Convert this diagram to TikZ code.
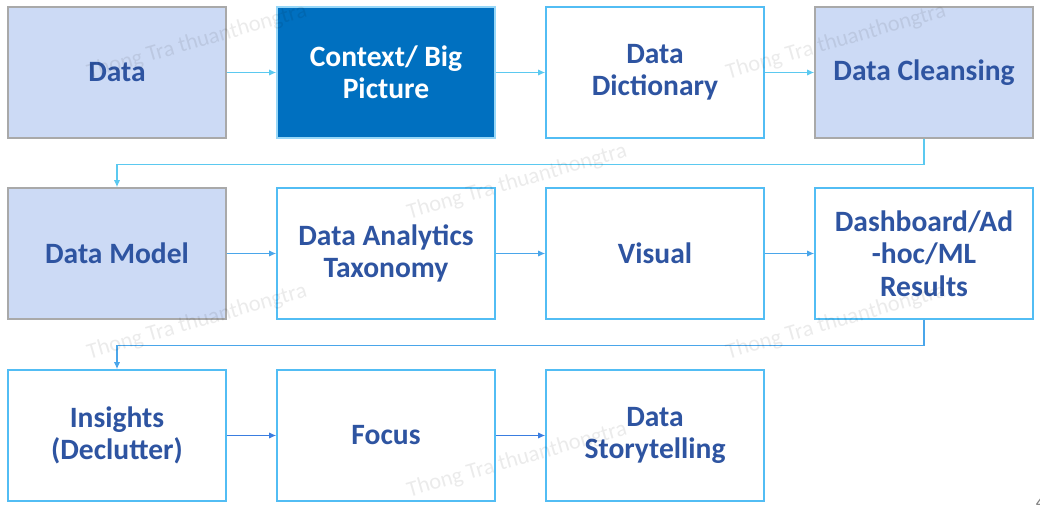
\documentclass[tikz,border=0pt]{standalone}
\usepackage{fontspec}
\setmainfont{Carlito}
\usepackage{xcolor}
\usetikzlibrary{positioning, arrows.meta, calc}

\definecolor{txtblue}{HTML}{2E54A1}
\definecolor{lightfill}{HTML}{CCDAF5}
\definecolor{graybd}{HTML}{A9A9A9}
\definecolor{ctxblue}{HTML}{0070C0}
\definecolor{cyanbd}{HTML}{52BDF4}
\definecolor{arrA}{HTML}{5BC9F0}
\definecolor{arrB}{HTML}{4AA6EA}
\definecolor{arrC}{HTML}{3A7DE0}

\tikzset{
  box/.style={rectangle, minimum width=5.45cm, minimum height=3.275cm, align=center,
    font=\fontsize{21}{23}\selectfont\bfseries, text=txtblue, line width=1pt},
  shaded/.style={box, draw=graybd, fill=lightfill},
  plain/.style={box, draw=cyanbd, fill=white},
  flow/.style={line width=1.1pt, -{Latex[length=5pt, width=4.5pt]}},
  wmark/.style={rotate=16, text=black, text opacity=0.08, font=\fontsize{16}{16}\selectfont}
}

\begin{document}
\begin{tikzpicture}[x=0.025cm, y=-0.025cm]
        \useasboundingbox (0,0) rectangle (1040,511);

        % first row
        \node[shaded] (data) at (117,72.5) {Data};
        \node[box, draw=cyanbd!60, fill=ctxblue, text=white] (ctx) at (386,72.5) {Context/ Big\\Picture};
        \node[plain] (dict) at (655,72.5) {Data\\Dictionary};
        \node[shaded] (clean) at (924,72.5) {Data Cleansing};

        % second row
        \node[shaded] (model) at (117,253.5) {Data Model};
        \node[plain] (taxo) at (386,253.5) {Data Analytics\\Taxonomy};
        \node[plain] (visual) at (655,253.5) {Visual};
        \node[plain] (dash) at (924,253.5) {Dashboard/Ad\\-hoc/ML\\Results};

        % third row
        \node[plain] (insight) at (117,435.5) {Insights\\(Declutter)};
        \node[plain] (focus) at (386,435.5) {Focus};
        \node[plain] (story) at (655,435.5) {Data\\Storytelling};

        \draw[flow, arrA] (data) -- (ctx);
        \draw[flow, arrA] (ctx) -- (dict);
        \draw[flow, arrA] (dict) -- (clean);
        \draw[flow, arrA] (clean.south) -- ++(0,26) -| (model.north);

        \draw[flow, arrB] (model) -- (taxo);
        \draw[flow, arrB] (taxo) -- (visual);
        \draw[flow, arrB] (visual) -- (dash);
        \draw[flow, arrB] (dash.south) -- ++(0,26) -| (insight.north);

        \draw[flow, arrC] (insight) -- (focus);
        \draw[flow, arrC] (focus) -- (story);

        % watermarks
        \foreach \wx/\wy [count=\i] in {197/42, 836/42, 517/182, 197/322, 836/322, 517/460}
          \node[wmark] (wm\i) at (\wx,\wy) {Thong Tra thuanthongtra};

        \node[text=gray, font=\fontsize{13}{13}\selectfont, anchor=west] (page) at (1031,503) {4};
      \end{tikzpicture}
\end{document}
